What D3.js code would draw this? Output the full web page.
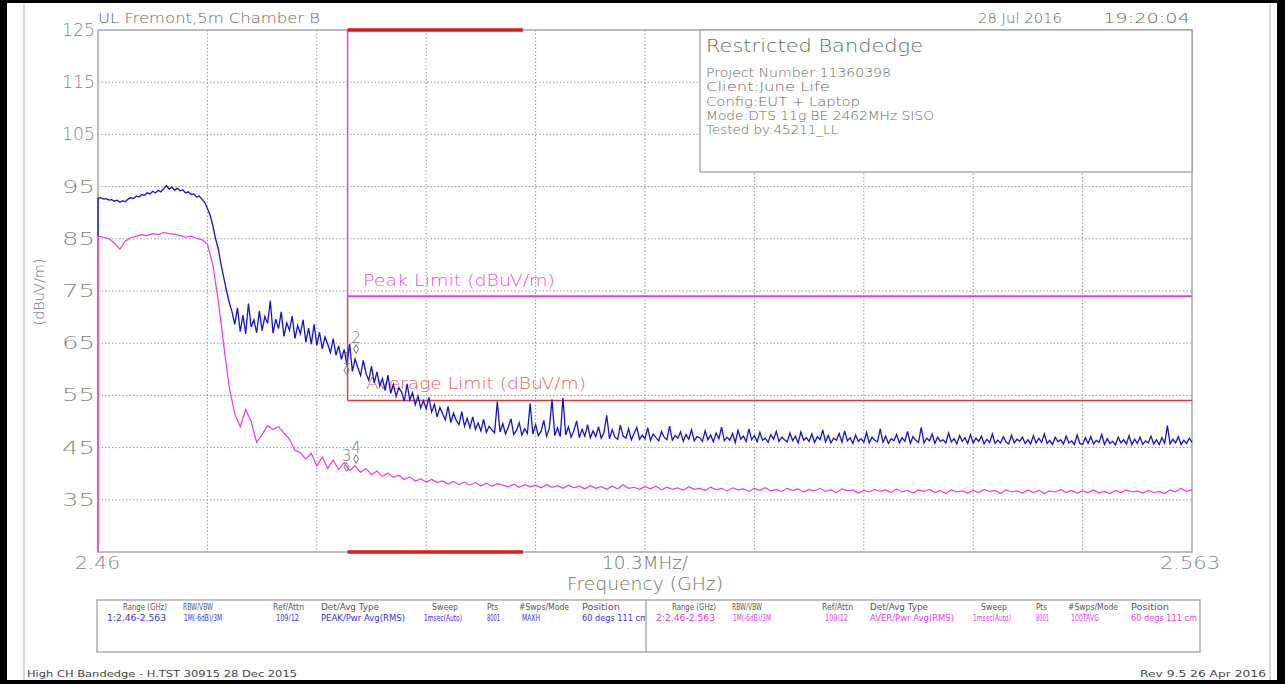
<!DOCTYPE html>
<html><head><meta charset="utf-8">
<script src="https://cdn.jsdelivr.net/npm/d3@7"></script>
<style>html,body{margin:0;padding:0;background:#fff;} svg{display:block;} text{font-family:"DejaVu Sans",sans-serif;}</style>
</head><body><svg id="c" width="1285" height="684"></svg>
<script>
// ---------------- data ----------------
const yTicks = [125,115,105,95,85,75,65,55,45,35];
const yDomain = [25,125];
const freqStart = 2.46, freqStop = 2.563;
const xLabels = ["2.46","10.3MHz/","2.563"];
const restrictedBand = [2.4835, 2.5];
const peakLimit = 74, avgLimit = 54;
// trace 1: peak / max hold (401 readings across the span)
const peakTrace = [
92.8,92.9,92.6,92.7,92.4,92.5,92.2,92.4,92.0,92.3,92.1,92.6,92.9,92.7,93.2,93.0,93.5,93.3,93.8,93.6,
94.1,93.8,94.3,94.0,94.6,95.2,94.5,94.9,94.3,94.7,94.2,94.4,93.8,94.0,93.5,93.6,93.0,93.2,92.6,92.0,
90.8,89.5,87.5,85.0,83.0,80.0,77.5,75.0,72.8,71.0,68.6,71.8,67.2,70.4,66.8,72.6,68.1,69.5,67.0,71.2,
67.4,70.1,68.8,73.1,66.9,69.6,67.8,71.0,66.3,68.9,67.5,70.2,65.9,68.4,66.8,69.5,65.2,67.9,64.8,68.6,
64.6,67.1,63.9,66.2,64.8,63.2,65.9,62.7,64.5,61.9,63.8,60.8,64.9,59.6,62.0,60.3,58.8,61.7,59.2,57.9,
60.6,57.4,59.5,56.8,58.2,55.9,58.9,55.4,57.1,54.8,56.5,55.6,53.9,57.2,54.1,55.5,53.2,54.9,52.6,54.0,
52.4,54.6,51.8,53.3,50.9,52.7,51.5,50.3,52.9,49.8,51.6,50.2,49.4,51.9,49.1,50.6,48.8,50.9,48.5,49.7,
48.2,50.4,47.9,49.1,48.4,47.8,53.8,48.0,49.6,47.6,48.9,50.5,47.5,48.3,49.8,47.4,48.6,47.7,53.5,47.6,
49.4,47.3,48.1,50.2,47.2,48.6,54.2,47.3,48.8,47.1,54.5,47.4,49.0,47.0,48.3,50.1,46.9,48.5,47.2,49.4,
46.9,48.2,47.1,49.0,46.8,47.9,51.2,46.7,48.4,47.0,46.6,49.3,47.2,46.8,48.6,46.5,47.7,48.9,46.6,47.4,
46.7,48.8,46.4,47.6,46.9,46.3,48.1,47.0,46.5,49.1,46.4,47.3,46.8,48.0,46.2,47.5,46.6,48.4,46.3,47.1,
46.9,46.2,48.2,46.5,47.4,46.1,47.8,46.7,48.9,46.3,47.0,46.4,47.7,46.0,48.3,46.6,47.2,46.2,48.6,46.5,
47.3,46.1,47.9,46.4,46.8,46.0,47.5,46.6,48.1,46.2,47.0,46.5,46.1,47.8,46.3,47.2,45.9,48.0,46.4,46.9,
46.2,47.6,46.0,47.1,46.5,48.4,46.1,47.3,45.9,46.8,46.4,47.7,46.0,48.2,46.3,46.9,45.8,47.4,46.2,46.7,
46.0,47.9,45.9,47.0,46.4,46.1,48.6,46.0,47.2,45.8,46.7,46.3,47.5,45.9,46.9,46.2,48.1,45.8,47.1,46.4,
46.0,48.9,45.9,46.8,46.3,47.6,45.8,47.0,46.2,46.5,45.9,47.8,46.1,46.7,45.7,47.3,46.2,46.9,45.8,47.5,
45.9,46.8,46.2,47.2,45.7,46.6,46.0,47.6,45.8,46.4,45.9,47.1,46.1,45.7,47.4,45.9,46.6,46.2,47.0,45.8,
46.5,45.7,47.3,45.9,46.8,46.0,47.6,45.8,46.4,45.6,47.0,46.1,46.5,45.7,47.2,45.9,46.3,45.6,47.4,45.8,
45.6,46.9,45.8,47.1,45.7,46.4,46.0,47.5,45.6,46.7,45.8,46.2,45.5,47.0,45.9,46.5,45.7,47.3,45.6,46.6,
45.8,47.0,45.6,46.3,45.9,47.2,45.7,46.5,45.6,46.9,45.8,49.2,45.7,46.6,45.9,47.1,45.6,46.4,45.8,46.8,
46.0];
// trace 2: average (201 readings across the span)
const avgTrace = [
85.5,85.3,85.0,84.2,83.0,84.6,85.2,85.5,85.8,85.6,86.0,85.8,86.2,86.0,85.9,85.6,85.3,85.5,85.1,84.8,
84.0,80.0,73.0,64.5,56.5,51.5,49.0,52.3,50.0,46.0,47.5,49.2,48.5,49.0,47.8,46.6,44.5,44.0,42.8,43.9,
41.5,43.2,41.0,42.6,40.8,42.1,40.6,41.5,40.3,41.0,39.8,40.5,39.5,40.1,39.3,39.7,38.9,39.4,38.6,39.0,
38.4,38.9,38.3,38.6,38.0,38.5,37.9,38.4,37.8,38.3,37.7,38.2,37.6,38.1,37.8,37.5,38.0,37.4,37.9,37.5,
37.8,37.3,37.9,37.4,37.7,37.2,37.8,37.3,37.6,37.1,37.7,37.2,37.5,37.0,37.6,37.1,37.9,37.2,37.4,37.0,
37.5,37.1,37.6,36.9,37.4,37.0,37.3,36.8,37.5,37.0,37.2,36.8,37.4,36.9,37.2,36.7,37.3,36.9,37.1,36.6,
37.2,36.8,37.3,36.7,37.0,36.6,37.2,36.8,37.1,36.5,37.0,36.7,37.2,36.6,36.9,36.4,37.1,36.7,36.9,36.3,
36.8,36.5,37.0,36.6,36.9,36.4,37.1,36.5,36.8,36.3,36.9,36.6,37.0,36.4,36.8,36.2,36.9,36.5,36.7,36.3,
36.8,36.4,37.0,36.6,36.8,36.2,36.9,36.5,36.7,36.3,36.9,36.4,36.8,36.2,36.7,36.5,37.0,36.4,36.8,36.3,
36.7,36.4,36.9,36.3,36.6,36.2,36.8,36.4,36.9,36.5,36.7,36.3,36.8,36.4,36.6,36.2,36.9,36.5,37.2,36.6,
36.9];
const markers = [
  {label:"1", f:2.4834, v:59.8},
  {label:"2", f:2.4843, v:63.9},
  {label:"3", f:2.4834, v:41.3},
  {label:"4", f:2.4843, v:42.8}
];
const headerLeft = "UL Fremont,5m Chamber B";
const headerDate = "28 Jul 2016", headerTime = "19:20:04";
const infoTitle = "Restricted Bandedge";
const infoLines = ["Project Number:11360398","Client:June Life","Config:EUT + Laptop","Mode:DTS 11g BE 2462MHz SISO","Tested by:45211_LL"];
const tableHeaders = ["Range (GHz)","RBW/VBW","Ref/Attn","Det/Avg Type","Sweep","Pts","#Swps/Mode","Position"];
const tableRow1 = ["1:2.46-2.563","1M(-6dB)/3M","109/12","PEAK/Pwr Avg(RMS)","1msec(Auto)","8001","MAXH","60 degs 111 cm"];
const tableRow2 = ["2:2.46-2.563","1M(-6dB)/3M","109/12","AVER/Pwr Avg(RMS)","1msec(Auto)","8001","100TAVG","60 degs 111 cm"];
const footerLeft = "High CH Bandedge - H.TST 30915 28 Dec 2015";
const footerRight = "Rev 9.5 26 Apr 2016";

// ---------------- layout ----------------
const W = 1285, H = 684;
const P = {l:98, r:1192, t:30, b:552};
const svg = d3.select("#c");
const x = d3.scaleLinear().domain([freqStart, freqStop]).range([P.l, P.r]);
const y = d3.scaleLinear().domain(yDomain).range([P.b, P.t]);

function T(sel, str, px, py, size, len, fill, anchor){
  const t = sel.append("text").attr("x",px).attr("y",py).attr("font-size",size)
    .attr("fill",fill).attr("text-anchor",anchor||"start").text(str);
  if(len) t.attr("textLength",len).attr("lengthAdjust","spacingAndGlyphs");
  return t;
}

// outer frame
svg.append("rect").attr("x",0).attr("y",0).attr("width",W).attr("height",H).attr("fill","#fff");
svg.append("line").attr("x1",24).attr("x2",24).attr("y1",4).attr("y2",680).attr("stroke","#b0b0b0").attr("stroke-width",1);
svg.append("line").attr("x1",1270).attr("x2",1270).attr("y1",4).attr("y2",680).attr("stroke","#b0b0b0").attr("stroke-width",1);
svg.append("rect").attr("x",0).attr("y",0).attr("width",7).attr("height",H).attr("fill","#000");
svg.append("rect").attr("x",0).attr("y",0).attr("width",W).attr("height",3).attr("fill","#000");
svg.append("rect").attr("x",1277).attr("y",0).attr("width",8).attr("height",H).attr("fill","#000");
svg.append("rect").attr("x",0).attr("y",680).attr("width",W).attr("height",4).attr("fill","#000");

// grid
const grid = svg.append("g");
yTicks.filter(v => v>yDomain[0] && v<yDomain[1]).forEach(v=>{
  grid.append("line").attr("x1",P.l).attr("x2",P.r).attr("y1",y(v)).attr("y2",y(v))
    .attr("stroke","#9a9a9a").attr("stroke-width",1).attr("stroke-dasharray","1.5,2");
});
for(let i=1;i<10;i++){
  const f = freqStart + i*(freqStop-freqStart)/10;
  grid.append("line").attr("x1",x(f)).attr("x2",x(f)).attr("y1",P.t).attr("y2",P.b)
    .attr("stroke","#9a9a9a").attr("stroke-width",1).attr("stroke-dasharray","1.5,2");
}

// plot frame
svg.append("rect").attr("x",P.l).attr("y",P.t).attr("width",P.r-P.l).attr("height",P.b-P.t)
  .attr("fill","none").attr("stroke","#a8a8a8").attr("stroke-width",1.5);

// y axis
const yAxis = d3.axisLeft(y).tickValues(yTicks).tickSize(0).tickPadding(3).tickFormat(d3.format("d"));
const ya = svg.append("g").attr("transform",`translate(${P.l},0)`).call(yAxis);
ya.select(".domain").remove();
ya.selectAll("text").attr("font-size",17).attr("fill","#858585").attr("font-family","DejaVu Sans")
  .attr("font-weight",300).attr("textLength",33).attr("lengthAdjust","spacingAndGlyphs");

// x labels
T(svg, xLabels[0], x(freqStart)-23, 569, 17, 45, "#858585").attr("font-weight",300);
T(svg, xLabels[1], x((freqStart+freqStop)/2), 569, 17, 86, "#707070", "middle").attr("font-weight",300);
T(svg, xLabels[2], x(freqStop)+28, 569, 17, 60, "#858585", "end").attr("font-weight",300);
T(svg, "Frequency (GHz)", x((freqStart+freqStop)/2), 590, 17, 156, "#707070", "middle").attr("font-weight",300);
T(svg, "(dBuV/m)", 0, 0, 14, 67, "#707070", "middle").attr("font-weight",300).attr("transform","translate(44,292) rotate(-90)");

// header
T(svg, headerLeft, P.l, 23, 14, 222, "#666").attr("font-weight",300);
T(svg, headerDate, 978, 23, 14, 84, "#666").attr("font-weight",300);
T(svg, headerTime, 1190, 23, 14, 87, "#666", "end").attr("font-weight",300);

// info box
svg.append("rect").attr("x",700).attr("y",P.t).attr("width",P.r-700).attr("height",142)
  .attr("fill","#fff").attr("stroke","#999").attr("stroke-width",1.2);
T(svg, infoTitle, 706, 52, 18, 217, "#666").attr("font-weight",300);
const infoLen = [185,124,154,228,132];
infoLines.forEach((s,i)=> T(svg, s, 706, 77+i*14.3, 13, infoLen[i], "#666").attr("font-weight",300));

// limits
const lim = svg.append("g");
const xb0 = x(restrictedBand[0]), xb1 = x(restrictedBand[1]);
lim.append("line").attr("x1",xb0).attr("x2",xb0).attr("y1",P.t).attr("y2",y(peakLimit)).attr("stroke","#e040e0").attr("stroke-width",1.5);
lim.append("line").attr("x1",xb0).attr("x2",xb0).attr("y1",y(peakLimit)).attr("y2",y(avgLimit)).attr("stroke","#e04040").attr("stroke-width",1.5);
lim.append("line").attr("x1",xb0).attr("x2",P.r).attr("y1",y(peakLimit)).attr("y2",y(peakLimit)).attr("stroke","#e040e0").attr("stroke-width",2);
lim.append("line").attr("x1",xb0).attr("x2",P.r).attr("y1",y(avgLimit)).attr("y2",y(avgLimit)).attr("stroke","#e03838").attr("stroke-width",1.5);
lim.append("line").attr("x1",xb0).attr("x2",xb1).attr("y1",P.t).attr("y2",P.t).attr("stroke","#e01818").attr("stroke-width",3.5);
lim.append("line").attr("x1",xb0).attr("x2",xb1).attr("y1",P.b).attr("y2",P.b).attr("stroke","#e01818").attr("stroke-width",3.5);
T(svg, "Peak Limit (dBuV/m)", 363, 286, 15, 192, "#e050e0").attr("font-weight",300);
T(svg, "Average Limit (dBuV/m)", 366, 389, 15, 220, "#e06060").attr("font-weight",300);

// traces
function tracePath(arr){
  const step = (freqStop - freqStart) / (arr.length - 1);
  return d3.line().x((d,i)=>x(freqStart + i*step)).y(d=>y(d))(arr);
}
svg.append("line").attr("x1",P.l).attr("x2",P.l).attr("y1",y(peakTrace[0])).attr("y2",y(avgTrace[0])).attr("stroke","#2020d0").attr("stroke-width",1.5);
svg.append("line").attr("x1",P.l).attr("x2",P.l).attr("y1",y(avgTrace[0])).attr("y2",y(yDomain[0])).attr("stroke","#e83be8").attr("stroke-width",1.5);
svg.append("path").attr("d",tracePath(avgTrace)).attr("fill","none").attr("stroke","#e83be8").attr("stroke-width",1.2);
svg.append("path").attr("d",tracePath(peakTrace)).attr("fill","none").attr("stroke","#1414cc").attr("stroke-width",1.3);

// markers
const mg = svg.append("g");
markers.forEach(m=>{
  const mx = x(m.f), my = y(m.v);
  mg.append("path").attr("d", d3.symbol().type(d3.symbolDiamond).size(22)())
    .attr("transform",`translate(${mx},${my})`).attr("fill","none").attr("stroke","#777").attr("stroke-width",1);
  T(mg, m.label, mx, my-6, 15, null, "#777", "middle").attr("font-weight",300);
});

// bottom table
const tb = {l:97, r:1200, t:600, b:652, mid:646};
svg.append("rect").attr("x",tb.l).attr("y",tb.t).attr("width",tb.r-tb.l).attr("height",tb.b-tb.t)
  .attr("fill","#fff").attr("stroke","#999").attr("stroke-width",1.2);
svg.append("line").attr("x1",tb.mid).attr("x2",tb.mid).attr("y1",tb.t).attr("y2",tb.b).attr("stroke","#999").attr("stroke-width",1.2);
const defs = svg.append("defs");
defs.append("clipPath").attr("id","cl1").append("rect").attr("x",tb.l).attr("y",tb.t).attr("width",tb.mid-tb.l-1).attr("height",tb.b-tb.t);
defs.append("clipPath").attr("id","cl2").append("rect").attr("x",tb.mid+1).attr("y",tb.t).attr("width",tb.r-tb.mid-2).attr("height",tb.b-tb.t);
const hdrX = [123,183,273,321,432,487,519,582];
const hdrL = [44,30,31,58,26,11,50,38];
const valX = [107,184,276,321,424,487,522,582];
const valL1 = [59,38,23,84,38,13,18,66];
const valL2 = [59,38,23,84,38,13,28,66];
[[tableRow1,"#3434e0","cl1",0,valL1],[tableRow2,"#e040e0","cl2",tb.mid-tb.l,valL2]].forEach(([row,col,cl,off,vl])=>{
  const g = svg.append("g").attr("clip-path",`url(#${cl})`);
  tableHeaders.forEach((h,i)=> T(g, h, hdrX[i]+off, 610, 9.5, hdrL[i], "#555"));
  row.forEach((v,i)=> T(g, v, valX[i]+off, 621, 9.5, vl[i], col));
});

// footer
T(svg, footerLeft, 27, 677, 9, 270, "#444");
T(svg, footerRight, 1266, 677, 9, 126, "#444", "end");
</script></body></html>
